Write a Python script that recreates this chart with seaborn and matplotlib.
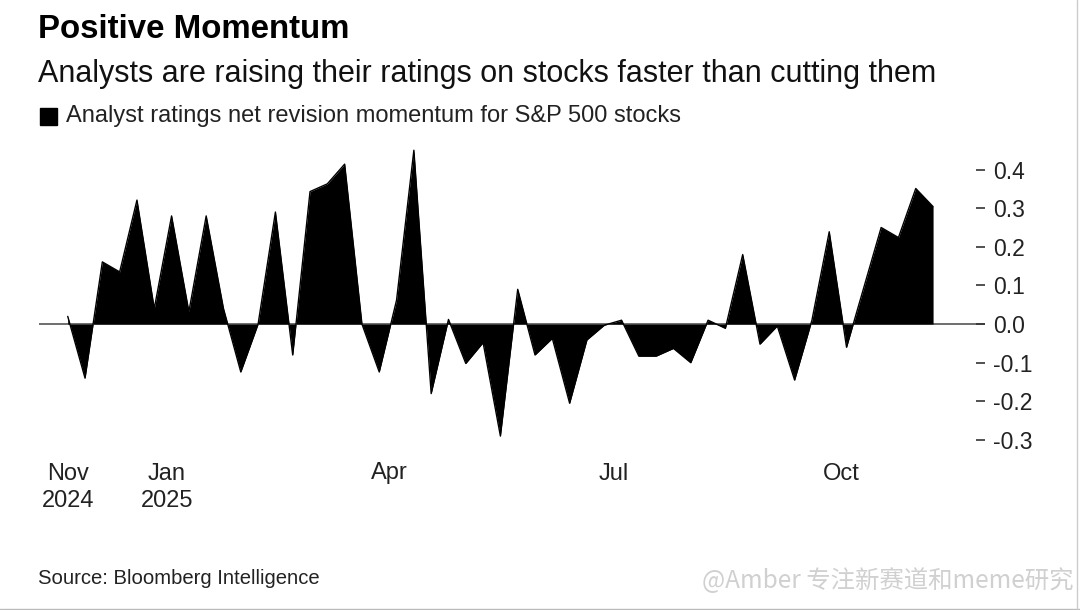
import numpy as np
import pandas as pd
import matplotlib
matplotlib.use('Agg')
import matplotlib.pyplot as plt
import matplotlib.dates as mdates
from matplotlib.lines import Line2D
import seaborn as sns

# weekly net revision momentum
momentum = [0.02, -0.14, 0.161, 0.135, 0.321, 0.04, 0.28, 0.032, 0.28, 0.04,
            -0.124, 0.0, 0.29, -0.08, 0.343, 0.363, 0.414, 0.0, -0.124, 0.062,
            0.45, -0.18, 0.012, -0.102, -0.048, -0.29, 0.09, -0.08, -0.037, -0.205,
            -0.041, -0.003, 0.01, -0.083, -0.083, -0.063, -0.10, 0.01, -0.011, 0.18,
            -0.052, -0.005, -0.145, 0.01, 0.239, -0.06, 0.095, 0.25, 0.224, 0.351,
            0.304]
dates = pd.date_range('2024-11-22', periods=len(momentum), freq='7D')

xtick_dates = ['2024-11-22', '2025-01-01', '2025-04-01', '2025-07-01', '2025-10-01']
xtick_labels = ['Nov\n2024', 'Jan\n2025', 'Apr', 'Jul', 'Oct']
ytick_vals = [0.4, 0.3, 0.2, 0.1, 0.0, -0.1, -0.2, -0.3]
ytick_labels = ['0.4', '0.3', '0.2', '0.1', '0.0', '-0.1', '-0.2', '-0.3']

df = pd.DataFrame({'date': dates, 'momentum': momentum})

sns.set_theme(style='white')
plt.rcParams['font.family'] = ['Liberation Sans', 'DejaVu Sans']

fig = plt.figure(figsize=(10.8, 6.1), dpi=100)
ax = fig.add_axes([39/1080, 1-450/610, 946/1080, 304/610])

ax.fill_between(df['date'], df['momentum'], 0, color='black', linewidth=0)
sns.lineplot(data=df, x='date', y='momentum', color='black', linewidth=1.0, ax=ax)
ax.axhline(0, color='#555555', linewidth=1.2, zorder=0)

start = mdates.date2num(dates[0])
ax.set_xlim(start - 1.66*7, start + 53.0*7)
ax.set_ylim(-0.326, 0.461)

for s in ax.spines.values():
    s.set_visible(False)

ax.set_xticks(pd.to_datetime(xtick_dates))
ax.set_xticklabels(xtick_labels, fontsize=17, color='#222222', linespacing=1.3)
ax.set_yticks(ytick_vals)
ax.set_yticklabels(ytick_labels, fontsize=16.5, color='#222222')
ax.yaxis.tick_right()
ax.tick_params(axis='y', direction='in', length=6.5, width=1.2, color='#333333', pad=6, left=False, right=True)
ax.tick_params(axis='x', direction='in', length=5.5, width=1.0, color='#444444', pad=9)
ax.set_xlabel('')
ax.set_ylabel('')
ax.grid(False)

fig.text(38/1080, 1-29/610, 'Positive Momentum', fontsize=23.8, fontweight='bold', color='black', va='center')
fig.text(38/1080, 1-74/610, 'Analysts are raising their ratings on stocks faster than cutting them',
         fontsize=22, color='#111111', va='center')
fig.patches.append(plt.Rectangle((40/1080, 1-125/610), 17/1080, 17/610, transform=fig.transFigure,
                                 color='black', figure=fig))
fig.text(66/1080, 1-116/610, 'Analyst ratings net revision momentum for S&P 500 stocks',
         fontsize=17, color='#222222', va='center')
fig.text(38/1080, 1-579/610, 'Source: Bloomberg Intelligence', fontsize=14.6, color='#222222', va='center')
fig.text(702/1080, 1-581/610, '@Amber 专注新赛道和meme研究', fontsize=17.6, color='#d0d0d0', va='center',
         family=['Noto Sans CJK SC', 'DejaVu Sans'])

fig.lines.append(Line2D([0, 1], [1.5/610, 1.5/610], transform=fig.transFigure, color='#bbbbbb', linewidth=1))
fig.lines.append(Line2D([1077/1080, 1077/1080], [0, 1], transform=fig.transFigure, color='#cccccc', linewidth=1))

fig.savefig('out.png', dpi=100, facecolor='white')
